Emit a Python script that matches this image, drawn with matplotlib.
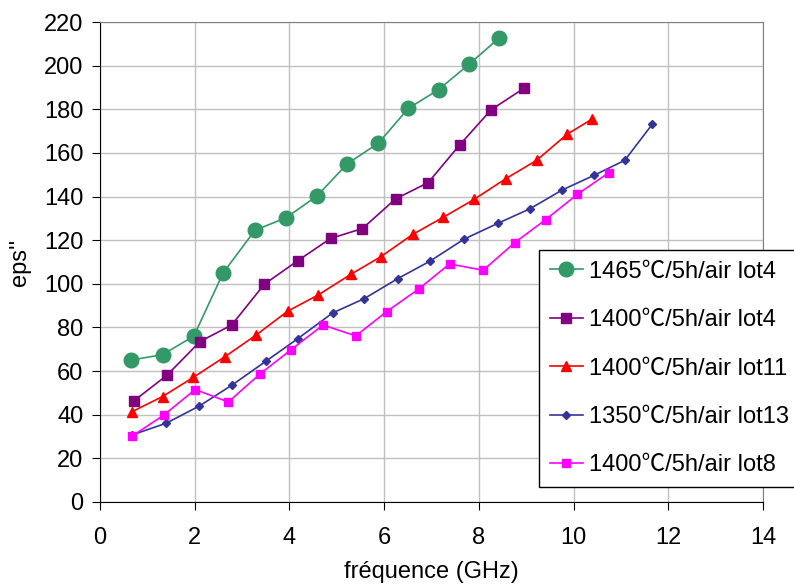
import matplotlib
matplotlib.use("Agg")
import matplotlib.pyplot as plt

plt.rcParams['font.family'] = ['Liberation Sans', 'Noto Sans CJK SC', 'DejaVu Sans']

# data
x_1465_lot4 = [0.65, 1.32, 1.98, 2.60, 3.27, 3.93, 4.58, 5.22, 5.88, 6.51, 7.15, 7.79, 8.42]
y_1465_lot4 = [65, 67.5, 76, 105, 124.5, 130.3, 140.2, 155, 164.5, 180.4, 189, 200.6, 212.5]

x_1400_lot4 = [0.72, 1.41, 2.11, 2.78, 3.47, 4.17, 4.87, 5.54, 6.24, 6.93, 7.60, 8.26, 8.95]
y_1400_lot4 = [46.4, 58, 73.5, 81.1, 99.8, 110.5, 120.8, 125.3, 138.9, 146.4, 163.8, 179.8, 189.6]

x_1400_lot11 = [0.68, 1.32, 1.97, 2.64, 3.29, 3.96, 4.61, 5.30, 5.93, 6.60, 7.25, 7.90, 8.57, 9.22, 9.86, 10.39]
y_1400_lot11 = [41.4, 48.3, 57.1, 66.6, 76.4, 87.4, 94.9, 104.4, 112.4, 122.6, 130.5, 138.7, 148.2, 156.6, 168.5, 175.5]

x_1350_lot13 = [0.68, 1.40, 2.10, 2.79, 3.51, 4.18, 4.91, 5.58, 6.29, 6.97, 7.69, 8.40, 9.08, 9.76, 10.43, 11.08, 11.66]
y_1350_lot13 = [30.7, 36.1, 44, 53.6, 64.6, 74.9, 86.6, 93.2, 102.4, 110.4, 120.5, 127.7, 134.4, 143, 149.7, 156.6, 173.1]

x_1400_lot8 = [0.68, 1.34, 2.01, 2.71, 3.37, 4.03, 4.71, 5.40, 6.05, 6.73, 7.38, 8.09, 8.76, 9.41, 10.08, 10.74]
y_1400_lot8 = [30.2, 39.7, 51.5, 45.8, 58.5, 69.7, 81.1, 76.1, 87.2, 97.6, 109.1, 106.2, 118.9, 129.4, 141, 150.9]

labels = ["1465\u2103/5h/air lot4", "1400\u2103/5h/air lot4", "1400\u2103/5h/air lot11",
          "1350\u2103/5h/air lot13", "1400\u2103/5h/air lot8"]

fig = plt.figure(figsize=(7.94, 5.87), dpi=100)
ax = fig.add_axes([0.126, 0.145, 0.835, 0.8175])

ax.plot(x_1465_lot4, y_1465_lot4, color="#339966", marker="o", markersize=10.5, lw=1.2, label=labels[0])
ax.plot(x_1400_lot4, y_1400_lot4, color="#800080", marker="s", markersize=7, lw=1.2, label=labels[1])
ax.plot(x_1400_lot11, y_1400_lot11, color="#ff0000", marker="^", markersize=7, lw=1.2, label=labels[2])
ax.plot(x_1350_lot13, y_1350_lot13, color="#333399", marker="D", markersize=4.5, lw=1.2, label=labels[3])
ax.plot(x_1400_lot8, y_1400_lot8, color="#ff00ff", marker="s", markersize=6, lw=1.2, label=labels[4])

ax.set_xlim(0, 14)
ax.set_ylim(0, 220)
ax.set_xticks(range(0, 15, 2))
ax.set_yticks(range(0, 221, 20))
ax.grid(True, color="#c0c0c0", lw=1)
ax.set_axisbelow(True)
ax.tick_params(labelsize=17, direction="out", length=6, color="black")
ax.tick_params(axis="y", pad=6)
ax.tick_params(axis="x", pad=12)
for s in ["top", "right"]:
    ax.spines[s].set_color("#808080")

ax.set_xlabel("fréquence (GHz)", fontsize=17, labelpad=9)
ax.set_ylabel("eps''", fontsize=17, labelpad=9)

leg = ax.legend(loc="upper left", bbox_to_anchor=(539 / 794, 1 - 250 / 587),
                bbox_transform=fig.transFigure, fontsize=17, frameon=True,
                fancybox=False, edgecolor="black", framealpha=1,
                labelspacing=1.12, handlelength=1.4, handletextpad=0.25,
                borderpad=0.45, borderaxespad=0)
leg.get_frame().set_linewidth(1)

fig.savefig("out.png", dpi=100)
